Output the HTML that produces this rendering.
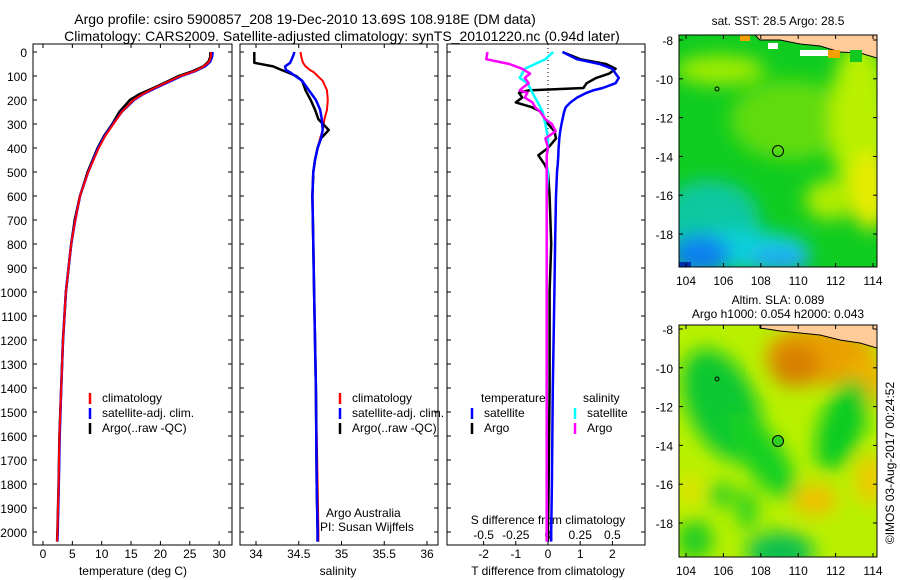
<!DOCTYPE html>
<html><head><meta charset="utf-8"><style>
body{margin:0;background:#fff}
svg{display:block;font-family:"Liberation Sans",sans-serif}
text{font-size:12px;fill:#000}
</style></head><body>
<svg id="c" width="900" height="580" viewBox="0 0 900 580">
<defs>
<clipPath id="m1c"><rect x="679" y="35" width="198" height="232"/></clipPath>
<clipPath id="m2c"><rect x="679" y="325" width="198" height="232"/></clipPath>
<filter id="bl" x="-50%" y="-50%" width="200%" height="200%"><feGaussianBlur stdDeviation="9"/></filter>
</defs>
<text x="305" y="24" text-anchor="middle" style="font-size:14px">Argo profile: csiro 5900857_208 19-Dec-2010 13.69S 108.918E (DM data)</text>
<text x="342" y="41" text-anchor="middle" style="font-size:14px">Climatology: CARS2009. Satellite-adjusted climatology: synTS_20101220.nc (0.94d later)</text>

<!-- Map 1 -->
<g clip-path="url(#m1c)">
<rect x="679" y="35" width="198" height="232" fill="#10cc20"/>
<g filter="url(#bl)">
<ellipse cx="790" cy="120" rx="60" ry="40" fill="#60dc10"/>
<ellipse cx="860" cy="120" rx="30" ry="80" fill="#b8f000"/>
<ellipse cx="870" cy="190" rx="20" ry="40" fill="#e8ec00"/>
<ellipse cx="830" cy="200" rx="25" ry="20" fill="#b0ec00"/>
<ellipse cx="720" cy="70" rx="45" ry="15" fill="#a0ec00"/>
<ellipse cx="710" cy="220" rx="50" ry="40" fill="#10c8a0"/>
<ellipse cx="740" cy="250" rx="70" ry="20" fill="#10d0d8"/>
<ellipse cx="700" cy="255" rx="30" ry="20" fill="#1080f0"/>
<ellipse cx="780" cy="260" rx="30" ry="12" fill="#20a8f8"/>
</g>
<rect x="679" y="262" width="12" height="8" fill="#0030b0"/>
<path d="M755,35 L877,35 L877,58 L860,53 L840,52 L820,46 L800,44 L780,40 L760,40 Z" fill="#ffcc99" stroke="#000" stroke-width="1"/>
<rect x="768" y="43" width="10" height="6" fill="#fff"/><rect x="800" y="50" width="30" height="6" fill="#fff"/>
<rect x="828" y="50" width="12" height="8" fill="#f0a000"/><rect x="850" y="50" width="12" height="12" fill="#10c820"/>
<rect x="740" y="35" width="10" height="6" fill="#f0a000"/>
</g>
<rect x="679" y="35" width="198" height="232" fill="none" stroke="#000"/>
<circle cx="778" cy="151" r="5.5" fill="none" stroke="#000"/>
<circle cx="717" cy="89" r="2" fill="none" stroke="#000"/>
<text x="778" y="25" text-anchor="middle">sat. SST: 28.5 Argo: 28.5</text>

<!-- Map 2 -->
<g clip-path="url(#m2c)">
<rect x="679" y="325" width="198" height="232" fill="#b8f000"/>
<g filter="url(#bl)">
<ellipse cx="820" cy="355" rx="55" ry="30" fill="#e8a000"/>
<ellipse cx="795" cy="365" rx="25" ry="22" fill="#d88000"/>
<ellipse cx="865" cy="380" rx="20" ry="25" fill="#f0b000"/>
<ellipse cx="722" cy="405" rx="34" ry="60" fill="#10c830" transform="rotate(-25 722 405)"/>
<ellipse cx="762" cy="455" rx="20" ry="52" fill="#18d020" transform="rotate(-35 762 455)"/>
<ellipse cx="842" cy="425" rx="22" ry="48" fill="#10cc20" transform="rotate(20 842 425)"/>
<ellipse cx="780" cy="552" rx="34" ry="20" fill="#10c050"/>
<ellipse cx="815" cy="500" rx="22" ry="16" fill="#f0c000"/>
<ellipse cx="695" cy="540" rx="18" ry="20" fill="#20cc20"/>
<ellipse cx="722" cy="495" rx="14" ry="12" fill="#30d020"/>
<ellipse cx="747" cy="510" rx="10" ry="20" fill="#20d020"/>
<ellipse cx="870" cy="480" rx="14" ry="25" fill="#f0c800"/>
<ellipse cx="690" cy="490" rx="12" ry="14" fill="#e8e000"/>
</g>
<path d="M760,325 L877,325 L877,348 L860,343 L840,340 L820,335 L800,333 L780,331 L760,328 Z" fill="#ffcc99" stroke="#000" stroke-width="1"/>
</g>
<rect x="679" y="325" width="198" height="232" fill="none" stroke="#000"/>
<circle cx="778" cy="441" r="5.5" fill="#30d020" stroke="#000"/>
<circle cx="717" cy="379" r="2" fill="none" stroke="#000"/>
<text x="778" y="304" text-anchor="middle">Altim. SLA: 0.089</text>
<text x="778" y="318" text-anchor="middle">Argo h1000: 0.054 h2000: 0.043</text>
<text transform="translate(894,463) rotate(-90)" text-anchor="middle">©IMOS 03-Aug-2017 00:24:52</text>
<g id="maxes"></g>
<g id="plots"></g>
</svg>
<script>
// ---------- data ----------
const depthT = [0,20,40,60,80,100,125,150,175,200,250,300,350,400,500,600,700,800,1000,1200,1400,1600,1800,2000,2040];
const tempClim = [28.6,28.6,28.3,27.4,25.8,23.4,21.2,19.0,17.0,15.4,13.4,12.0,10.6,9.5,7.7,6.3,5.5,4.8,3.9,3.4,3.1,2.8,2.65,2.45,2.4];
const tempSat = [28.9,28.8,28.5,27.6,25.9,23.6,21.4,19.2,17.1,15.5,13.4,11.9,10.5,9.4,7.7,6.3,5.5,4.8,3.9,3.4,3.1,2.85,2.7,2.5,2.45];
const tempArgo = [28.5,28.5,28.2,27.3,25.5,23.1,21.0,18.8,16.5,14.8,13.0,11.8,10.4,9.3,7.6,6.3,5.4,4.8,3.9,3.4,3.1,2.8,2.65,2.45,2.4];

const depthS = [0,20,45,60,75,85,100,120,160,200,240,280,325,360,400,450,500,600,800,1000,1400,1800,2000,2040];
const salClim = [34.52,34.53,34.55,34.58,34.63,34.68,34.72,34.78,34.83,34.84,34.83,34.80,34.78,34.75,34.72,34.69,34.67,34.66,34.67,34.68,34.70,34.72,34.73,34.73];
const salSat = [34.45,34.43,34.40,34.34,34.35,34.40,34.46,34.54,34.62,34.70,34.75,34.77,34.78,34.76,34.72,34.69,34.67,34.66,34.67,34.68,34.70,34.71,34.72,34.72];
const salArgo = [33.98,33.98,33.98,34.20,34.30,34.37,34.47,34.54,34.58,34.64,34.69,34.73,34.85,34.76,34.72,34.69,34.67,34.66,34.67,34.68,34.70,34.71,34.72,34.72];

const depthD = [0,30,50,70,90,108,130,150,160,170,190,210,230,250,280,300,330,360,400,430,470,500,600,800,1000,1400,1800,2000,2040];
const tdSat = [0.45,0.9,1.6,2.0,2.1,2.2,2.1,1.7,1.4,1.2,0.9,0.7,0.55,0.5,0.45,0.42,0.38,0.35,0.33,0.32,0.3,0.28,0.25,0.22,0.2,0.15,0.12,0.1,0.1];
const tdArgo = [0.45,1.0,1.8,2.1,1.9,1.5,1.2,1.1,-0.6,-0.9,-0.8,-1.0,-0.5,-0.2,-0.1,0.0,0.2,0.25,0.0,-0.3,-0.1,0.0,0.05,0.1,0.05,0.05,0.02,0.0,0.0];
const sdSat = [0.04,-0.02,-0.1,-0.18,-0.2,-0.22,-0.16,-0.14,-0.13,-0.12,-0.1,-0.08,-0.06,-0.04,-0.03,-0.02,-0.01,0.0,0.0,-0.01,-0.01,0.0,-0.01,-0.01,-0.01,-0.01,-0.01,-0.01,-0.01];
const sdArgo = [-0.47,-0.48,-0.3,-0.2,-0.14,-0.18,-0.15,-0.2,-0.22,-0.16,-0.18,-0.12,-0.1,-0.06,-0.02,0.03,0.06,-0.02,0.0,-0.01,-0.01,-0.01,-0.01,-0.01,-0.01,-0.01,-0.01,-0.01,-0.01];

const depthTicks = [0,100,200,300,400,500,600,700,800,900,1000,1100,1200,1300,1400,1500,1600,1700,1800,1900,2000];
const tempTicks = [0,5,10,15,20,25,30];
const salTicks = [34,34.5,35,35.5,36];
const tdTicks = [-2,-1,0,1,2];
const sdTicks = [-0.5,-0.25,0,0.25,0.5];
const latTicks = [-8,-10,-12,-14,-16,-18];
const lonTicks = [104,106,108,110,112,114];

// ---------- helpers ----------
const NS='http://www.w3.org/2000/svg';
const plots=document.getElementById('plots');
const maxes=document.getElementById('maxes');
function mk(tag,attrs,parent){const e=document.createElementNS(NS,tag);for(const k in attrs)e.setAttribute(k,attrs[k]);(parent||plots).appendChild(e);return e;}
function txt(x,y,s,anchor,parent){const t=mk('text',{x:x,y:y,'text-anchor':anchor||'middle'},parent);t.textContent=s;return t;}
const Y0=52, YS=0.24, TOP=44, BOT=545;
const yD=d=>Y0+d*YS;
const xTemp=v=>43+v*5.87;
const xSal=v=>256+(v-34)*85.5;
const xTd=v=>548+v*32.2;
const xSd=v=>548+v*128.8;

function frame(x0,x1,name){
  const r=mk('rect',{x:x0,y:TOP,width:x1-x0,height:BOT-TOP,fill:'none',stroke:'#000'});
  
  
  depthTicks.forEach(d=>{mk('line',{x1:x0,x2:x0+4,y1:yD(d),y2:yD(d),stroke:'#000'});mk('line',{x1:x1,x2:x1-4,y1:yD(d),y2:yD(d),stroke:'#000'});});
}
function xticks(x0,ticks,fx,labels,ly,top,bot){
  ticks.forEach((v,i)=>{const x=fx(v);
    if(bot)mk('line',{x1:x,x2:x,y1:BOT,y2:BOT-4,stroke:'#000'});
    if(top)mk('line',{x1:x,x2:x,y1:TOP,y2:TOP+4,stroke:'#000'});
    if(labels){const t=txt(x,ly,labels[i]);}
  });
}
function line(xs,ds,fx,color,w,name){
  const pts=xs.map((v,i)=>fx(v).toFixed(1)+','+yD(ds[i]).toFixed(1)).join(' ');
  const p=mk('polyline',{points:pts,fill:'none',stroke:color,'stroke-width':w,'stroke-linejoin':'round'});
  
  
}

// panel 1
frame(33,232,'temperature-panel');
depthTicks.forEach(d=>{const t=txt(27,yD(d)+5,String(d),'end');});
xticks(33,tempTicks,xTemp,tempTicks.map(String),558,true,true);
const t1=txt(133,575,'temperature (deg C)');
line(tempArgo,depthT,xTemp,'#000',2.5,'temp-argo-line');
line(tempSat,depthT,xTemp,'#0000ff',2.5,'temp-satellite-line');
line(tempClim,depthT,xTemp,'#ff0000',2,'temp-climatology-line');

// panel 2
frame(240,438,'salinity-panel');
xticks(240,salTicks,xSal,salTicks.map(String),558,true,true);
const t2=txt(338,575,'salinity');
line(salClim,depthS,xSal,'#ff0000',2,'sal-climatology-line');
line(salArgo,depthS,xSal,'#000',2.5,'sal-argo-line');
line(salSat,depthS,xSal,'#0000ff',2.5,'sal-satellite-line');
txt(326,517,'Argo Australia','start');
txt(320,531,'PI: Susan Wijffels','start');

// panel 3
frame(447,645,'difference-panel');
mk('line',{x1:548,x2:548,y1:TOP,y2:yD(380),stroke:'#000','stroke-dasharray':'1,3'});
xticks(447,tdTicks,xTd,tdTicks.map(String),558,false,true);
xticks(447,sdTicks,xSd,['-0.5','-0.25','0','0.25','0.5'],539,false,false);
const t3=txt(548,575,'T difference from climatology');
const t4=txt(548,524,'S difference from climatology');
line(tdArgo,depthD,xTd,'#000',2.5,'tdiff-argo-line');
line(tdSat,depthD,xTd,'#0000ff',2.5,'tdiff-satellite-line');
line(sdSat,depthD,xSd,'#00ffff',2.5,'sdiff-satellite-line');
line(sdArgo,depthD,xSd,'#ff00ff',2.5,'sdiff-argo-line');

// legends
function leg(x,y,color,label){mk('line',{x1:x,x2:x,y1:y-9,y2:y+2,stroke:color,'stroke-width':2.5});const t=txt(x+12,y,label,'start');}
[[90,'climatology','#ff0000'],[90,'satellite-adj. clim.','#0000ff'],[90,'Argo(..raw -QC)','#000']].forEach((a,i)=>leg(a[0],402+i*15,a[2],a[1]));
[[340,'climatology','#ff0000'],[340,'satellite-adj. clim.','#0000ff'],[340,'Argo(..raw -QC)','#000']].forEach((a,i)=>leg(a[0],402+i*15,a[2],a[1]));
txt(481,402,'temperature','start');txt(583,402,'salinity','start');
leg(472,417,'#0000ff','satellite');leg(472,432,'#000','Argo');
leg(575,417,'#00ffff','satellite');leg(575,432,'#ff00ff','Argo');

// map axes
function mapAxes(y0,latTop){
  latTicks.forEach(l=>{const y=latTop+(-8-l)*19.4;
    mk('line',{x1:679,x2:683,y1:y,y2:y,stroke:'#000'},maxes);mk('line',{x1:877,x2:873,y1:y,y2:y,stroke:'#000'},maxes);
    const t=txt(673,y+5,String(l),'end',maxes);});
  lonTicks.forEach(l=>{const x=686+(l-104)*18.7;
    mk('line',{x1:x,x2:x,y1:y0+232,y2:y0+228,stroke:'#000'},maxes);mk('line',{x1:x,x2:x,y1:y0,y2:y0+4,stroke:'#000'},maxes);
    const t=txt(x,y0+250,String(l),'middle',maxes);});
}
mapAxes(35,40);
mapAxes(325,329);
</script>
</body></html>
